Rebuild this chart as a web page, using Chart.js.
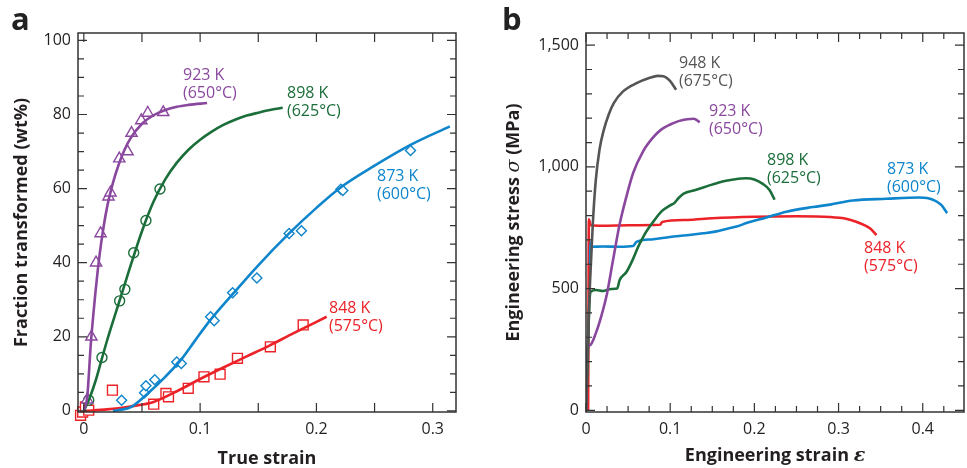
<!DOCTYPE html>
<html>
<head>
<meta charset="utf-8">
<script src="https://cdn.jsdelivr.net/npm/chart.js@4"></script>
<style>
  body { margin: 0; background: #fff; width: 967px; height: 468px; position: relative; overflow: hidden; }
  #wrapA { position: absolute; left: 0; top: 0; width: 480px; height: 468px; }
  #wrapB { position: absolute; left: 480px; top: 0; width: 487px; height: 468px; }
</style>
</head>
<body>
<div id="wrapA"><canvas id="chartA"></canvas></div>
<div id="wrapB"><canvas id="chartB"></canvas></div>
<script>
// ---- panel a : fraction transformed vs true strain ----
// fitted curves [strain, wt%]
const curveA923 = [[0,0],[0.003,4],[0.006,18],[0.01,32],[0.012,38],[0.015,45.5],[0.02,55],[0.025,61.5],[0.03,66.5],[0.035,70.5],[0.04,73.5],[0.05,77.5],[0.06,79.8],[0.07,81.2],[0.08,82.1],[0.09,82.6],[0.106,83.1]];
const curveA898 = [[0,0],[0.005,3.5],[0.01,8],[0.015,13.5],[0.02,19],[0.03,29],[0.04,39],[0.05,48.5],[0.06,56.5],[0.07,62.5],[0.08,67],[0.09,70.5],[0.1,73.2],[0.11,75.4],[0.12,77.2],[0.13,78.6],[0.14,79.7],[0.15,80.5],[0.16,81.2],[0.171,81.8]];
const curveA873 = [[0.025,0],[0.03,0.2],[0.041,1.1],[0.055,4.7],[0.07,9.2],[0.0833,13.7],[0.095,18.7],[0.1087,24.5],[0.1285,31.7],[0.15,39.3],[0.1765,47.9],[0.2,54.8],[0.2216,60.5],[0.25,66.2],[0.2809,71.8],[0.3147,76.8]];
const curveA848 = [[0,0],[0.02,0.4],[0.04,1.2],[0.06,2.4],[0.08,5.3],[0.1,8.6],[0.12,11.7],[0.14,14.7],[0.16,17.7],[0.18,20.9],[0.2088,25.4]];
// measured points
const ptsA923 = [[0.003,3],[0.0065,20],[0.0105,40],[0.0144,47.9],[0.0212,57.8],[0.0229,58.9],[0.0305,68.1],[0.0376,70],[0.041,75],[0.0494,78.4],[0.055,80.4],[0.0683,80.6]];
const ptsA898 = [[0.0042,2.9],[0.0156,14.4],[0.0308,29.7],[0.0353,32.8],[0.0429,42.7],[0.0534,51.4],[0.0655,59.9]];
const ptsA873 = [[0.0325,2.9],[0.0522,4.9],[0.0534,6.8],[0.061,8.4],[0.0799,13.2],[0.0838,12.8],[0.109,25.4],[0.1121,24.3],[0.1279,31.9],[0.1488,35.9],[0.1765,47.9],[0.1871,48.6],[0.221,59.8],[0.2227,59.5],[0.2809,70.3]];
const ptsA848 = [[-0.0028,-1.2],[-0.001,-0.3],[0.0014,1.1],[0.0042,0.2],[0.0246,5.6],[0.0601,1.8],[0.0706,4.7],[0.0728,3.8],[0.0898,6.1],[0.1033,9.2],[0.1172,9.9],[0.1321,14.2],[0.1604,17.3],[0.1886,23.2]];

const aXTicks = [0, 0.05, 0.1, 0.15, 0.2, 0.25, 0.3];
const aXLabels = [0, 0.1, 0.2, 0.3];
const aYTicks = [0,5,10,15,20,25,30,35,40,45,50,55,60,65,70,75,80,85,90,95,100];
const aYLabels = [0, 20, 40, 60, 80, 100];

// ---- panel b : engineering stress-strain ----
const stress948 = [[0,0],[0.002,250],[0.0047,520],[0.008,760],[0.0115,940],[0.016,1070],[0.021,1150],[0.027,1215],[0.033,1262],[0.044,1310],[0.06,1344],[0.075,1365],[0.085,1374],[0.092,1372],[0.1,1352],[0.107,1317]];
const stress923 = [[0,0],[0.001,240],[0.005,268],[0.012,320],[0.018,385],[0.025,480],[0.032,615],[0.04,765],[0.048,878],[0.056,975],[0.068,1065],[0.08,1122],[0.09,1155],[0.1,1174],[0.11,1188],[0.12,1196],[0.128,1198],[0.135,1183]];
const stress898 = [[0,0],[0.002,200],[0.004,440],[0.006,488],[0.012,494],[0.02,490],[0.03,498],[0.037,500],[0.04,535],[0.048,568],[0.055,615],[0.062,672],[0.07,725],[0.08,775],[0.09,818],[0.1,842],[0.105,852],[0.11,872],[0.116,890],[0.13,905],[0.145,922],[0.16,938],[0.168,944],[0.175,948],[0.19,953],[0.2,948],[0.21,930],[0.218,905],[0.224,865]];
const stress873 = [[0.0048,600],[0.0055,690],[0.0068,672],[0.02,673],[0.04,672],[0.056,675],[0.06,692],[0.08,703],[0.0996,712],[0.12,719],[0.1391,727],[0.155,735],[0.1669,745],[0.18,756],[0.1906,769],[0.2143,792],[0.238,816],[0.2696,835],[0.29,845],[0.317,862],[0.3567,869],[0.3962,874],[0.405,872],[0.412,865],[0.422,844],[0.429,810]];
const stress848 = [[0.0025,0],[0.003,400],[0.0034,785],[0.0045,772],[0.0055,760],[0.02,758],[0.05,760],[0.088,762],[0.0905,774],[0.12,782],[0.15,789],[0.2,795],[0.25,797],[0.29,794],[0.31,786],[0.32,776],[0.33,762],[0.338,746],[0.345,720]];

const bXTicks = [0,0.025,0.05,0.075,0.1,0.125,0.15,0.175,0.2,0.225,0.25,0.275,0.3,0.325,0.35,0.375,0.4,0.425];
const bXLabels = [0, 0.1, 0.2, 0.3, 0.4];
const bYTicks = [0,100,200,300,400,500,600,700,800,900,1000,1100,1200,1300,1400,1500];
const bYLabels = [0, 500, 1000, 1500];

const GRAY = '#555555', PURPLE = '#8a479e', GREEN = '#1b6e3a', BLUE = '#0f85cc', RED = '#ec2229';
const FONT = '"Open Sans", "Noto Sans", sans-serif';

const toXY = arr => arr.map(p => ({ x: p[0], y: p[1] }));

function curve(data, color) {
    return {
        data: toXY(data), showLine: true, borderColor: color, borderWidth: 2.6,
        pointRadius: 0, fill: false, cubicInterpolationMode: 'monotone'
    };
}
function marks(data, color, style, r) {
    return {
        data: toXY(data), showLine: false, pointStyle: style, pointRadius: r,
        pointBorderColor: color, pointBackgroundColor: '#fff', pointBorderWidth: 1.4,
        clip: false
    };
}

// frame, inward ticks, titles, curve labels
function makeDecor(cfg) {
    return {
        id: 'decor',
        afterDraw(chart) {
            const { ctx, chartArea: ca } = chart;
            const xs = chart.scales.x, ys = chart.scales.y;
            ctx.save();
            ctx.strokeStyle = '#333';
            ctx.lineWidth = 1.2;
            ctx.beginPath();
            xs.ticks.forEach(t => {
                const px = xs.getPixelForValue(t.value);
                const len = t.label !== '' ? cfg.xMajor : cfg.xMinor;
                ctx.moveTo(px, ca.bottom); ctx.lineTo(px, ca.bottom - len);
                ctx.moveTo(px, ca.top); ctx.lineTo(px, ca.top + len);
            });
            ys.ticks.forEach(t => {
                const py = ys.getPixelForValue(t.value);
                const len = t.label !== '' ? cfg.yMajor : cfg.yMinor;
                ctx.moveTo(ca.left, py); ctx.lineTo(ca.left + len, py);
                ctx.moveTo(ca.right, py); ctx.lineTo(ca.right - len, py);
            });
            ctx.stroke();
            ctx.lineWidth = 1.5;
            ctx.strokeRect(ca.left, ca.top, ca.right - ca.left, ca.bottom - ca.top);

            // panel letter
            ctx.fillStyle = '#222';
            ctx.font = 'bold 31px ' + FONT;
            ctx.textAlign = 'left';
            ctx.textBaseline = 'alphabetic';
            ctx.fillText(cfg.letter, cfg.letterX, 30);

            // axis titles (segments so the greek letter can be italic)
            const drawRich = (segs) => {
                let w = 0;
                segs.forEach(s => { ctx.font = s.f; w += ctx.measureText(s.t).width; });
                let x = -w / 2;
                segs.forEach(s => { ctx.font = s.f; ctx.fillText(s.t, x, 0); x += ctx.measureText(s.t).width; });
            };
            ctx.fillStyle = '#231f20';
            ctx.save();
            ctx.translate((ca.left + ca.right) / 2, cfg.xTitleY);
            drawRich(cfg.xTitle);
            ctx.restore();
            ctx.save();
            ctx.translate(cfg.yTitleX, (ca.top + ca.bottom) / 2);
            ctx.rotate(-Math.PI / 2);
            drawRich(cfg.yTitle);
            ctx.restore();

            // curve labels
            ctx.font = '16px ' + FONT;
            cfg.notes.forEach(n => {
                ctx.fillStyle = n.c;
                ctx.fillText(n.l1, n.x, n.y);
                ctx.fillText(n.l2, n.x, n.y + 18);
            });
            ctx.restore();
        }
    };
}

function baseOptions(xMin, xMax, yMin, yMax, xT, xL, yT, yL, yFmt, padRight, yWidth) {
    return {
        responsive: true, maintainAspectRatio: false, animation: false, devicePixelRatio: 1,
        events: [],
        layout: { padding: { left: 0, right: padRight, top: 33, bottom: 0 } },
        plugins: { legend: { display: false }, tooltip: { enabled: false } },
        scales: {
            x: {
                type: 'linear', min: xMin, max: xMax,
                afterBuildTicks: s => { s.ticks = xT.map(v => ({ value: v })); },
                afterFit: s => { s.height = 56; },
                grid: { display: false, drawTicks: false }, border: { display: false },
                ticks: {
                    autoSkip: false, maxRotation: 0, padding: 8, color: '#231f20',
                    font: { family: FONT, size: 16 },
                    callback: v => xL.includes(v) ? String(v) : ''
                }
            },
            y: {
                type: 'linear', min: yMin, max: yMax,
                afterBuildTicks: s => { s.ticks = yT.map(v => ({ value: v })); },
                afterFit: s => { s.width = yWidth; },
                grid: { display: false, drawTicks: false }, border: { display: false },
                ticks: {
                    autoSkip: false, padding: 7, color: '#231f20',
                    font: { family: FONT, size: 16 },
                    callback: v => yL.includes(v) ? yFmt(v) : ''
                }
            }
        }
    };
}

// ---- chart a ----
new Chart(document.getElementById('chartA'), {
    type: 'scatter',
    data: {
        datasets: [
            curve(curveA923, PURPLE),
            curve(curveA898, GREEN),
            curve(curveA873, BLUE),
            curve(curveA848, RED),
            marks(ptsA923, PURPLE, 'triangle', 6.5),
            marks(ptsA898, GREEN, 'circle', 5),
            marks(ptsA873, BLUE, 'rectRot', 5),
            marks(ptsA848, RED, 'rect', 7)
        ]
    },
    options: baseOptions(-0.005, 0.32, -0.3, 102, aXTicks, aXLabels, aYTicks, aYLabels, v => String(v), 24, 78),
    plugins: [makeDecor({
        letter: 'a', letterX: 11, xMajor: 9, xMinor: 9, yMajor: 9, yMinor: 6,
        xTitleY: 464, yTitleX: 27,
        xTitle: [{ t: 'True strain', f: 'bold 18px ' + FONT }],
        yTitle: [{ t: 'Fraction transformed (wt%)', f: 'bold 18px ' + FONT }],
        notes: [
            { l1: '923 K', l2: '(650°C)', x: 183, y: 80, c: PURPLE },
            { l1: '898 K', l2: '(625°C)', x: 287, y: 98, c: GREEN },
            { l1: '873 K', l2: '(600°C)', x: 377, y: 181, c: BLUE },
            { l1: '848 K', l2: '(575°C)', x: 329, y: 313, c: RED }
        ]
    })]
});

// ---- chart b ----
new Chart(document.getElementById('chartB'), {
    type: 'scatter',
    data: {
        datasets: [
            curve(stress948, GRAY),
            curve(stress923, PURPLE),
            curve(stress898, GREEN),
            curve(stress873, BLUE),
            curve(stress848, RED)
        ]
    },
    options: baseOptions(0, 0.449, -7, 1550, bXTicks, bXLabels, bYTicks, bYLabels, v => v.toLocaleString('en-US'), 3, 106),
    plugins: [makeDecor({
        letter: 'b', letterX: 22, xMajor: 9, xMinor: 6, yMajor: 9, yMinor: 6,
        xTitleY: 461, yTitleX: 39,
        xTitle: [{ t: 'Engineering strain ', f: 'bold 18px ' + FONT }, { t: 'ε', f: 'italic bold 19px "DejaVu Serif", serif' }],
        yTitle: [{ t: 'Engineering stress ', f: 'bold 18px ' + FONT }, { t: 'σ', f: 'italic 19px "DejaVu Serif", serif' }, { t: ' (MPa)', f: 'bold 18px ' + FONT }],
        notes: [
            { l1: '948 K', l2: '(675°C)', x: 199, y: 68, c: GRAY },
            { l1: '923 K', l2: '(650°C)', x: 229, y: 116, c: PURPLE },
            { l1: '898 K', l2: '(625°C)', x: 287, y: 165, c: GREEN },
            { l1: '873 K', l2: '(600°C)', x: 407, y: 174, c: BLUE },
            { l1: '848 K', l2: '(575°C)', x: 384, y: 253, c: RED }
        ]
    })]
});
</script>
</body>
</html>
